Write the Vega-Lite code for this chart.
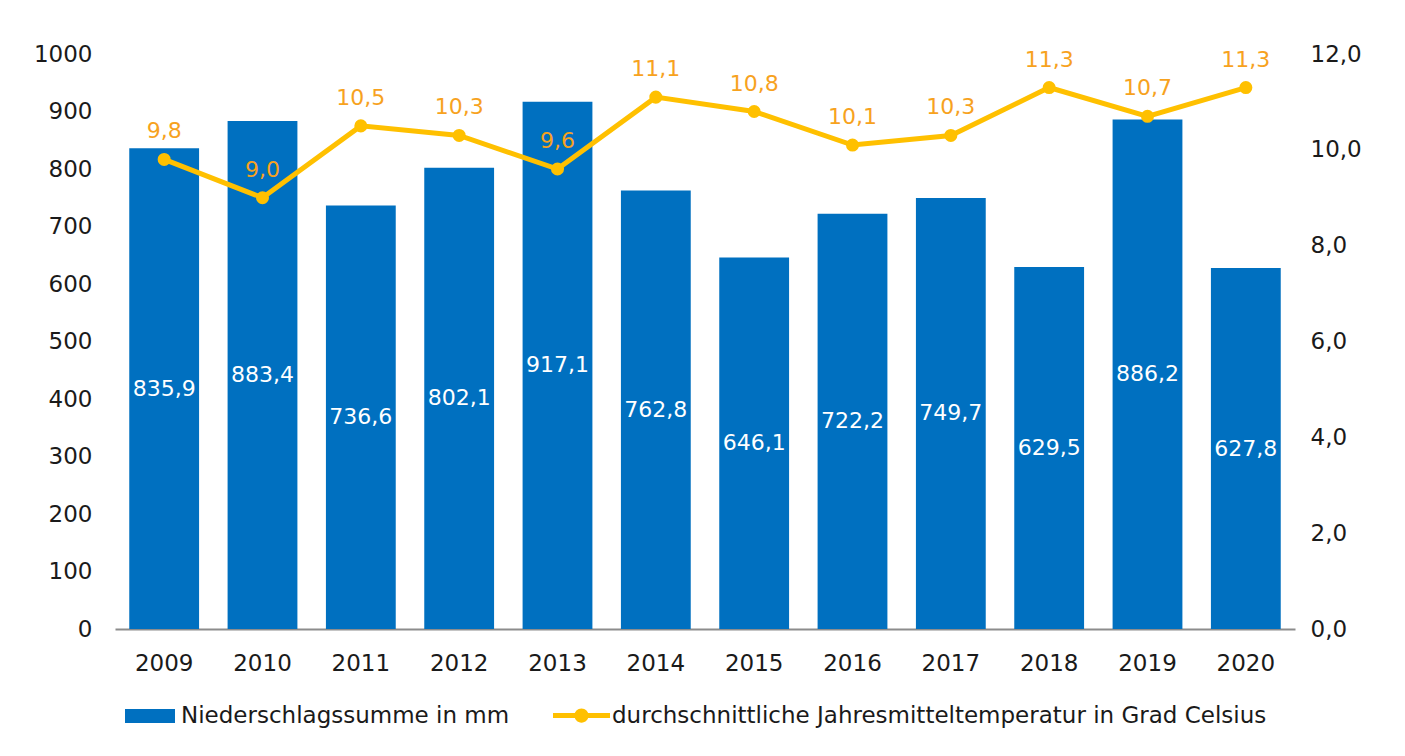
{
  "$schema": "https://vega.github.io/schema/vega-lite/v6.json",
  "width": 1180,
  "height": 575,
  "autosize": {"type": "none"},
  "padding": {"left": 115, "top": 54, "right": 110, "bottom": 127},
  "background": "white",
  "config": {
    "locale": {"number": {"decimal": ",", "thousands": ".", "grouping": [3], "currency": ["", " €"]}},
    "view": {"stroke": null},
    "font": "DejaVu Sans",
    "axis": {"grid": false, "ticks": false, "labelFont": "DejaVu Sans", "labelFontSize": 23, "labelColor": "#1a1a1a", "title": null},
    "legend": {"labelFont": "DejaVu Sans", "labelFontSize": 22, "labelColor": "#1a1a1a", "padding": 0, "title": null, "labelLimit": 0}
  },
  "data": {
    "values": [
      {"year": "2009", "precip": 835.9, "temp": 9.8},
      {"year": "2010", "precip": 883.4, "temp": 9.0},
      {"year": "2011", "precip": 736.6, "temp": 10.5},
      {"year": "2012", "precip": 802.1, "temp": 10.3},
      {"year": "2013", "precip": 917.1, "temp": 9.6},
      {"year": "2014", "precip": 762.8, "temp": 11.1},
      {"year": "2015", "precip": 646.1, "temp": 10.8},
      {"year": "2016", "precip": 722.2, "temp": 10.1},
      {"year": "2017", "precip": 749.7, "temp": 10.3},
      {"year": "2018", "precip": 629.5, "temp": 11.3},
      {"year": "2019", "precip": 886.2, "temp": 10.7},
      {"year": "2020", "precip": 627.8, "temp": 11.3}
    ]
  },
  "encoding": {
    "x": {
      "field": "year", "type": "ordinal",
      "scale": {"paddingInner": 0.29, "paddingOuter": 0.145},
      "axis": {"labelAngle": 0, "domainColor": "#8c8c8c", "domainWidth": 2, "labelPadding": 23, "title": null}
    }
  },
  "layer": [
    {
      "mark": {"type": "bar", "color": "#0070C0"},
      "encoding": {
        "y": {"field": "precip", "type": "quantitative", "scale": {"domain": [0, 1000]},
          "axis": {"values": [0, 100, 200, 300, 400, 500, 600, 700, 800, 900, 1000], "format": "d", "domain": false, "labelPadding": 23, "title": null}},
        "color": {"datum": "Niederschlagssumme in mm", "scale": {"range": ["#0070C0"]},
          "legend": {"orient": "none", "legendX": 10, "legendY": 637, "symbolType": "M-1,-0.28H1V0.28H-1Z", "symbolSize": 2500, "symbolStrokeWidth": 0, "labelOffset": 6, "labelFontSize": 23}}
      }
    },
    {
      "mark": {"type": "text", "color": "white", "fontSize": 22, "baseline": "middle"},
      "encoding": {
        "y": {"field": "precip", "type": "quantitative", "scale": {"domain": [0, 2000]}, "axis": null},
        "text": {"field": "precip", "type": "quantitative", "format": ".1f"}
      }
    },
    {
      "mark": {"type": "line", "strokeWidth": 5, "point": {"filled": true, "size": 170, "color": "#FFC000"}},
      "encoding": {
        "y": {"field": "temp", "type": "quantitative", "scale": {"domain": [0, 12]},
          "axis": {"orient": "right", "values": [0, 2, 4, 6, 8, 10, 12], "format": ".1f", "domain": false, "labelPadding": 15, "title": null}},
        "color": {"datum": "durchschnittliche Jahresmitteltemperatur in Grad Celsius", "scale": {"range": ["#FFC000"]},
          "legend": {"orient": "none", "legendX": 438, "legendY": 633,
            "symbolType": "M-1,-0.085H1V0.085H-1Z M0.25,0A0.25,0.25,0,1,1,-0.25,0A0.25,0.25,0,1,1,0.25,0Z",
            "symbolSize": 3249, "symbolFillColor": "#FFC000", "symbolStrokeWidth": 0, "labelOffset": 2, "labelFontSize": 23,
            "encode": {"symbols": {"update": {"fill": {"value": "#FFC000"}, "strokeWidth": {"value": 0}}}}}}
      }
    },
    {
      "mark": {"type": "text", "color": "#F7A21E", "fontSize": 22, "baseline": "middle", "dy": -28},
      "encoding": {
        "y": {"field": "temp", "type": "quantitative", "scale": {"domain": [0, 12]}, "axis": null},
        "text": {"field": "temp", "type": "quantitative", "format": ".1f"}
      }
    }
  ],
  "resolve": {"scale": {"y": "independent", "color": "independent"}}
}
